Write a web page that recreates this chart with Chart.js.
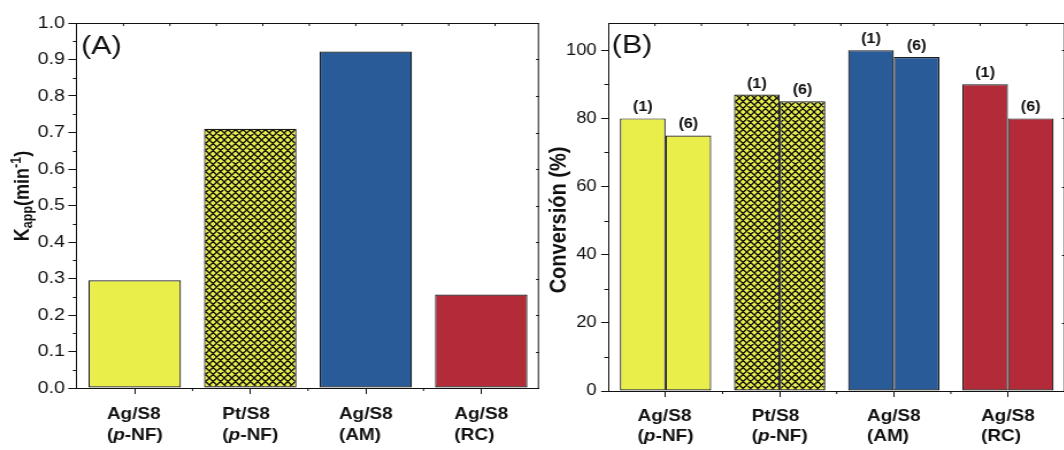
<!DOCTYPE html>
<html>
<head>
<meta charset="utf-8">
<script src="https://cdn.jsdelivr.net/npm/chart.js@4"></script>
<style>
html,body{margin:0;padding:0;background:#fff;overflow:hidden;width:1064px;height:450px;}
.wrap{position:absolute;top:0;height:450px;transform-origin:0 0;transform:scaleX(1.15);}
#wa{left:0;width:474px;}
#wb{left:530px;width:480px;}
</style>
</head>
<body>
<div class="wrap" id="wa"><canvas id="ca"></canvas></div>
<div class="wrap" id="wb"><canvas id="cb"></canvas></div>
<script>
// ---------- data ----------
const catLine1 = ['Ag/S8', 'Pt/S8', 'Ag/S8', 'Ag/S8'];
const catLine2 = ['(p-NF)', '(p-NF)', '(AM)', '(RC)'];
const kappValues = [0.295, 0.71, 0.922, 0.256];
const conversionRun1 = [80, 87, 100, 90];
const conversionRun6 = [75, 85, 98, 80];
const runLabels = ['(1)', '(6)'];
const kappTickLabels = ['0.0','0.1','0.2','0.3','0.4','0.5','0.6','0.7','0.8','0.9','1.0'];
const convTickLabels = ['0','20','40','60','80','100'];
const panelLabels = ['(A)', '(B)'];

// ---------- style ----------
const FF = '"Liberation Sans", Arial, Helvetica, sans-serif';
const INK = '#111';
const YELLOW = '#E9EE4B';
const BLUE = '#2A5B99';
const RED = '#B32A38';
const EDGE = '#1a1a1a';
Chart.defaults.font.family = FF;
Chart.defaults.color = INK;

function makeHatch(){
  const c = document.createElement('canvas');
  c.width = 13; c.height = 14;
  const g = c.getContext('2d');
  g.fillStyle = YELLOW; g.fillRect(0, 0, 13, 14);
  g.strokeStyle = '#0d0d0d'; g.lineWidth = 1.25;
  g.beginPath();
  const w = 6.5;
  for (let k = -3; k <= 3; k++) {
    g.moveTo(k * w, 0); g.lineTo(k * w + 13, 14);
    g.moveTo(k * w, 14); g.lineTo(k * w + 13, 0);
  }
  g.stroke();
  return g.createPattern(c, 'repeat');
}
const HATCH = makeHatch();
const barFills = [YELLOW, HATCH, BLUE, RED];

function segs(line){
  const m = line.match(/^\((p)(-.*)$/);
  return m ? [['(', false], ['p', true], [m[2], false]] : [[line, false]];
}
function boldFont(size, italic){ return (italic ? 'italic ' : '') + 'bold ' + size + 'px ' + FF; }
function measureLine(ctx, line, size){
  let w = 0;
  for (const [t, it] of segs(line)) { ctx.font = boldFont(size, it); w += ctx.measureText(t).width; }
  return w;
}
function drawLine(ctx, line, x, y, size){
  for (const [t, it] of segs(line)) { ctx.font = boldFont(size, it); ctx.fillText(t, x, y); x += ctx.measureText(t).width; }
}

function decorPlugin(p){
  return {
    id: 'decor' + p.id,
    afterDraw(chart){
      const ctx = chart.ctx, a = chart.chartArea, xs = chart.scales.x, ys = chart.scales.y;
      ctx.save();
      ctx.strokeStyle = INK; ctx.fillStyle = INK; ctx.lineWidth = 1;
      ctx.beginPath();
      ctx.moveTo(a.left, a.top + 0.5); ctx.lineTo(a.right, a.top + 0.5);
      ctx.moveTo(a.right - 0.5, a.top); ctx.lineTo(a.right - 0.5, a.bottom);
      for (let x = a.left + p.topStep; x < a.right - 2; x += p.topStep) {
        ctx.moveTo(x, a.top); ctx.lineTo(x, a.top + 3);
      }
      for (const v of p.rightTicks) {
        const y = Math.round(ys.getPixelForValue(v)) + 0.5;
        ctx.moveTo(a.right, y); ctx.lineTo(a.right - 2.6, y);
      }
      for (const v of p.minorY) {
        const y = Math.round(ys.getPixelForValue(v)) + 0.5;
        ctx.moveTo(a.left, y); ctx.lineTo(a.left - 3.6, y);
      }
      const n = xs.getLabels().length;
      for (let i = 0; i < n - 1; i++) {
        const x = (xs.getPixelForValue(i) + xs.getPixelForValue(i + 1)) / 2;
        ctx.moveTo(x, a.bottom); ctx.lineTo(x, a.bottom + 3);
      }
      ctx.stroke();

      ctx.font = '26.5px ' + FF;
      ctx.textAlign = 'left'; ctx.textBaseline = 'alphabetic';
      ctx.fillText(p.letter, a.left + p.letterDx, p.letterY);

      for (let i = 0; i < n; i++) {
        const cx = xs.getPixelForValue(i);
        const w = Math.max(measureLine(ctx, catLine1[i], 16.5), measureLine(ctx, catLine2[i], 16.5));
        const x0 = cx - w / 2;
        drawLine(ctx, catLine1[i], x0, p.xl1, 16.5);
        drawLine(ctx, catLine2[i], x0, p.xl2, 16.5);
      }

      ctx.translate(p.titleX, p.titleY);
      ctx.rotate(-Math.PI / 2);
      let total = 0;
      for (const s of p.title) { ctx.font = boldFont(s[1], false); total += ctx.measureText(s[0]).width; }
      let tx = -total / 2;
      for (const s of p.title) {
        ctx.font = boldFont(s[1], false);
        ctx.fillText(s[0], tx, s[2]);
        tx += ctx.measureText(s[0]).width;
      }
      ctx.restore();
    }
  };
}

const valueLabelPlugin = {
  id: 'valueLabels',
  afterDatasetsDraw(chart){
    const ctx = chart.ctx;
    ctx.save();
    ctx.fillStyle = INK;
    ctx.font = boldFont(14, false);
    ctx.textAlign = 'center'; ctx.textBaseline = 'alphabetic';
    chart.data.datasets.forEach((ds, d) => {
      chart.getDatasetMeta(d).data.forEach(bar => {
        ctx.fillText(runLabels[d], bar.x, bar.y - 7);
      });
    });
    ctx.restore();
  }
};

function xScale(bottomH){
  return {
    type: 'category',
    afterFit(s){ s.height = bottomH; },
    ticks: { display: false },
    grid: { offset: false, drawOnChartArea: false, drawTicks: true, tickLength: 6, color: INK, lineWidth: 1 },
    border: { display: true, color: INK, width: 1 }
  };
}

function barDataset(values){
  return {
    data: values,
    backgroundColor: barFills,
    borderColor: EDGE, borderWidth: 1.2, borderSkipped: false,
    barPercentage: 1, categoryPercentage: 0.8
  };
}

// ---------- chart A ----------
new Chart(document.getElementById('ca'), {
  type: 'bar',
  data: {
    labels: catLine1.map((l, i) => l + ' ' + catLine2[i]),
    datasets: [barDataset(kappValues)]
  },
  options: {
    responsive: true, maintainAspectRatio: false, animation: false,
    layout: { padding: { top: 23, right: 5.3, left: 0, bottom: 0 } },
    plugins: { legend: { display: false }, tooltip: { enabled: false } },
    scales: {
      x: xScale(62),
      y: {
        min: 0, max: 1,
        afterFit(s){ s.width = 66.96; },
        ticks: { stepSize: 0.1, padding: 3, font: { size: 17 }, color: INK,
          callback: v => kappTickLabels[Math.round(v * 10)] },
        grid: { drawOnChartArea: false, drawTicks: true, tickLength: 7.5, color: INK, lineWidth: 1 },
        border: { display: true, color: INK, width: 1 }
      }
    }
  },
  plugins: [decorPlugin({
    id: 'A', letter: panelLabels[0], letterDx: 3.5, letterY: 54,
    topStep: 40.4,
    rightTicks: [0.1,0.2,0.3,0.4,0.5,0.6,0.7,0.8,0.9],
    minorY: [0.05,0.15,0.25,0.35,0.45,0.55,0.65,0.75,0.85,0.95],
    xl1: 418.5, xl2: 439.5,
    titleX: 24.6, titleY: 196,
    title: [['K', 18, 0], ['app', 12.5, 3], ['(min', 18, 0], ['-1', 12.5, -7], [')', 18, 0]]
  })]
});

// ---------- chart B ----------
new Chart(document.getElementById('cb'), {
  type: 'bar',
  data: {
    labels: catLine1.map((l, i) => l + ' ' + catLine2[i]),
    datasets: [barDataset(conversionRun1), barDataset(conversionRun6)]
  },
  options: {
    responsive: true, maintainAspectRatio: false, animation: false,
    layout: { padding: { top: 23, right: 14.8, left: 0, bottom: 0 } },
    plugins: { legend: { display: false }, tooltip: { enabled: false } },
    scales: {
      x: xScale(59),
      y: {
        min: 0, max: 108,
        afterFit(s){ s.width = 68.26; },
        ticks: { stepSize: 20, includeBounds: false, padding: 3.9, font: { size: 16 }, color: INK,
          callback: v => convTickLabels[Math.round(v / 20)] },
        grid: { drawOnChartArea: false, drawTicks: true, tickLength: 6.4, color: INK, lineWidth: 1 },
        border: { display: true, color: INK, width: 1 }
      }
    }
  },
  plugins: [valueLabelPlugin, decorPlugin({
    id: 'B', letter: panelLabels[1], letterDx: 2.8, letterY: 52.5,
    topStep: 40.4,
    rightTicks: [20,40,60,80,100],
    minorY: [10,30,50,70,90],
    xl1: 421, xl2: 441,
    titleX: 31.0, titleY: 220,
    title: [['Conversión (%)', 20, 0]]
  })]
});
</script>
</body>
</html>
